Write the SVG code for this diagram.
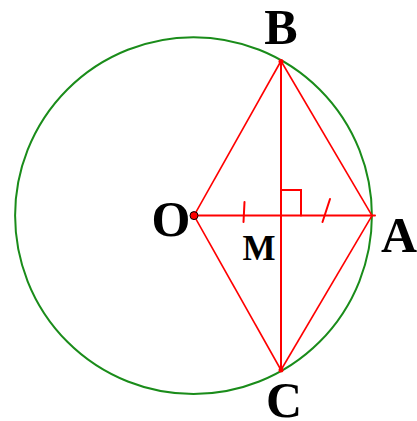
<svg xmlns="http://www.w3.org/2000/svg" width="417" height="421" viewBox="0 0 417 421">
<style>
.lbl{font-family:"Liberation Serif","Times New Roman",serif;font-weight:bold;fill:#000;text-anchor:middle}
.big{font-size:50px}
.small{font-size:35px}
.seg{stroke:#ff0000;stroke-width:2;fill:none;stroke-linecap:round}
.thin{stroke:#ff0000;stroke-width:1.6;fill:none}
</style>
<rect width="417" height="421" fill="#ffffff"/>
<g id="circle">
<circle cx="193.5" cy="215.6" r="178.4" fill="none" stroke="#1a8c1a" stroke-width="2"/>
</g>
<g id="connectors">
<line class="thin" x1="194" y1="215.6" x2="281" y2="61"/>
<line class="thin" x1="281" y1="61" x2="372" y2="215.6"/>
<line class="thin" x1="194" y1="215.6" x2="281" y2="370"/>
<line class="thin" x1="281" y1="370" x2="372" y2="215.6"/>
<line class="seg" x1="194" y1="215.6" x2="375" y2="215.6"/>
<line class="seg" x1="281" y1="61" x2="281" y2="370"/>
<polyline class="seg" points="282,190 301,190 301,215.6"/>
<line class="seg" x1="244.5" y1="202" x2="243.5" y2="222"/>
<line class="seg" x1="330" y1="199" x2="322.5" y2="222"/>
</g>
<g id="node-O">
<circle cx="194" cy="215.6" r="4" fill="#ff0000" stroke="#000" stroke-width="1"/>
<text class="lbl big" x="171" y="236">O</text>
</g>
<g id="node-B">
<circle cx="281" cy="61.5" r="2.5" fill="#ff0000"/>
<text class="lbl big" x="281" y="44">B</text>
</g>
<g id="node-A">
<text class="lbl big" x="399" y="252">A</text>
</g>
<g id="node-C">
<circle cx="281" cy="370" r="2.5" fill="#ff0000"/>
<text class="lbl big" x="284" y="417">C</text>
</g>
<g id="node-M">
<text class="lbl small" x="259" y="260">M</text>
</g>
</svg>
